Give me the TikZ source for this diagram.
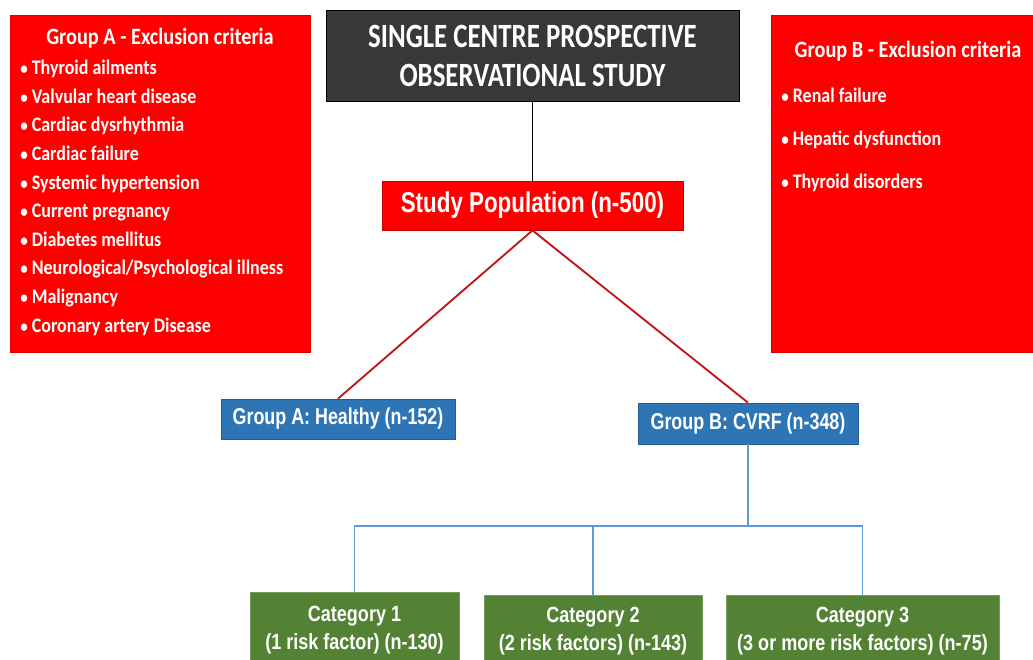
\documentclass[tikz,border=0pt]{standalone}
\usepackage{fontspec}
\usetikzlibrary{positioning}
\usepackage{xcolor}
\newfontfamily\calib[FakeStretch=0.87]{Carlito}
\newfontfamily\calibtitle[FakeStretch=0.79]{Carlito}
\newfontfamily\narr[FakeStretch=0.78]{Liberation Sans}
\newfontfamily\narrcat[FakeStretch=0.82]{Liberation Sans}
\newcommand{\blt}{{\fontsize{13}{13}\selectfont\textbullet}\ }
\definecolor{exred}{HTML}{FF0000}
\definecolor{darkbox}{HTML}{3A3836}
\definecolor{grpblue}{HTML}{2E75B6}
\definecolor{catgreen}{HTML}{548235}
\definecolor{linkred}{HTML}{C0161B}
\definecolor{linkblue}{HTML}{5B9BD5}

\begin{document}
\begin{tikzpicture}[x=0.75pt,y=-0.75pt,
        exbox/.style={fill=exred,draw=exred!85!black,line width=0.3pt,inner sep=0pt,minimum height=252.75pt},
        extext/.style={text=white,inner sep=0pt,font=\calib\bfseries\fontsize{15.5}{21.45}\selectfont},
        exhead/.style={text=white,inner sep=0pt,font=\calib\bfseries\fontsize{17.5}{21}\selectfont},
        popbox/.style={fill=exred,draw=exred!75!black,line width=0.6pt,text=white,inner sep=0pt,
            font=\narr\bfseries\fontsize{21.5}{25}\selectfont},
        grpbox/.style={fill=grpblue,draw=grpblue!80!black,line width=0.5pt,text=white,inner sep=0pt,
            minimum height=30pt,font=\narr\bfseries\fontsize{17.2}{20}\selectfont},
        catbox/.style={fill=catgreen,draw=catgreen!80!white,line width=0.5pt,text=white,inner sep=0pt,
            align=center,font=\narrcat\bfseries\fontsize{16.5}{21}\selectfont},
        redlink/.style={draw=linkred,line width=1.4pt},
        bluelink/.style={draw=linkblue,line width=1.1pt}]
        \useasboundingbox (0,0) rectangle (1033,660);

        % exclusion criteria
        \node [exbox,minimum width=225pt] (exA) at (160,183.5) {};
        \node [exhead] (exAhead) at (160,38) {Group A - Exclusion criteria};
        \node [extext,align=left,anchor=north west] (exAlist) at (20,60) {%
            \blt Thyroid ailments\\
            \blt Valvular heart disease\\
            \blt Cardiac dysrhythmia\\
            \blt Cardiac failure\\
            \blt Systemic hypertension\\
            \blt Current pregnancy\\
            \blt Diabetes mellitus\\
            \blt Neurological/Psychological illness\\
            \blt Malignancy\\
            \blt Coronary artery Disease};

        \node [exbox,minimum width=198pt] (exB) at (903,183.5) {};
        \node [exhead] (exBhead) at (908,51) {Group B - Exclusion criteria};
        \node [extext,align=left,anchor=north west,
            font=\calib\bfseries\fontsize{15.5}{32.25}\selectfont] (exBlist) at (781,88) {%
            \blt Renal failure\\
            \blt Hepatic dysfunction\\
            \blt Thyroid disorders};

        % main flow
        \node [fill=darkbox,draw=black,line width=0.5pt,text=white,align=center,inner sep=0pt,
            minimum width=309.75pt,minimum height=68.25pt,
            font=\calibtitle\bfseries\fontsize{25.5}{29.25}\selectfont] (title) at (532.5,55.5)
            {SINGLE CENTRE PROSPECTIVE\\OBSERVATIONAL STUDY};
        \node [popbox,minimum width=225.75pt,minimum height=36.75pt] (pop) at (532.5,205.5) {Study Population (n-500)};

        \node [grpbox,minimum width=175.5pt] (grpA) at (338,419) {Group A: Healthy (n-152)};
        \node [grpbox,minimum width=165pt,minimum height=30.75pt] (grpB) at (748,423.5) {Group B: CVRF (n-348)};

        \node [catbox,minimum width=156.75pt,minimum height=57pt] (cat1) at (354.5,630) {Category 1\\(1 risk factor) (n-130)};
        \node [catbox,minimum width=163.5pt,minimum height=54.75pt] (cat2) at (593,631.5) {Category 2\\(2 risk factors) (n-143)};
        \node [catbox,minimum width=204.75pt,minimum height=54.75pt] (cat3) at (862.5,631.5) {Category 3\\(3 or more risk factors) (n-75)};

        \coordinate (bus) at (748,526);

        \draw [line width=1.1pt] (title) -- (pop);
        \draw [redlink] (pop.south) -- (grpA.north);
        \draw [redlink] (pop.south) -- (grpB.north);
        \draw [bluelink] (grpB) -- (bus);
        \draw [bluelink] (bus) -| (cat1);
        \draw [bluelink] (bus) -| (cat2);
        \draw [bluelink] (bus) -| (cat3);
    \end{tikzpicture}
\end{document}
